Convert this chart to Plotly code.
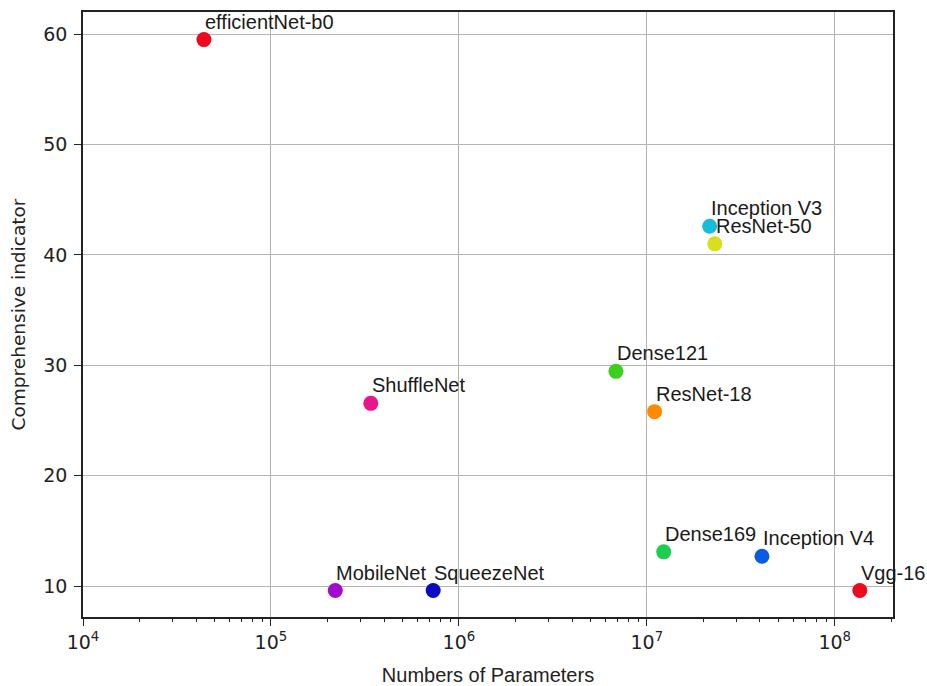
import math
import plotly.graph_objects as go

# Model comparison: parameter count vs. comprehensive indicator
models = ["efficientNet-b0", "Inception V3", "ResNet-50", "Dense121", "ResNet-18",
          "ShuffleNet", "Dense169", "Inception V4", "Vgg-16", "MobileNet", "SqueezeNet"]
params = [4.4e4, 2.16e7, 2.3e7, 6.85e6, 1.1e7, 3.4e5, 1.23e7, 4.1e7, 1.36e8, 2.2e5, 7.3e5]
indicator = [59.5, 42.6, 41.0, 29.45, 25.8, 26.55, 13.1, 12.7, 9.6, 9.6, 9.6]
colors = ["#ee0a1e", "#16bcdc", "#d7e01a", "#3ccf1c", "#ff8a00", "#e8158c",
          "#1ccd4e", "#0a5ce0", "#ee0a1e", "#a30bcc", "#0a0ac0"]

x_tick_vals = [1e4, 1e5, 1e6, 1e7, 1e8]
x_tick_text = ["10<sup>4</sup>", "10<sup>5</sup>", "10<sup>6</sup>", "10<sup>7</sup>", "10<sup>8</sup>"]
y_tick_vals = [10, 20, 30, 40, 50, 60]

# minor ticks at 2..9 within each decade
minor_vals = [m * 10 ** e for e in range(4, 9) for m in range(2, 10)]

X_RANGE = [4, 8.31]

fig = go.Figure()
fig.add_trace(go.Scatter(
    x=params, y=indicator, mode="markers",
    marker=dict(size=15, color=colors, line=dict(width=0)),
    hoverinfo="text", text=models, showlegend=False,
))
# invisible trace that keeps the minor-tick axis alive
fig.add_trace(go.Scatter(
    x=[minor_vals[0]], y=[indicator[0]], xaxis="x2", mode="markers",
    marker=dict(opacity=0), hoverinfo="skip", showlegend=False,
))

# annotations on a log axis take log10 positions
for name, px, py in zip(models, params, indicator):
    fig.add_annotation(
        x=math.log10(px), y=py, xref="x", yref="y", text=name, showarrow=False,
        xanchor="left", yanchor="middle", xshift=-1, yshift=18,
        font=dict(family="Liberation Sans, Arial", size=20, color="#1a1a1a"),
    )

fig.update_layout(
    width=927, height=686,
    margin=dict(l=83, r=34, t=12, b=69),
    paper_bgcolor="white", plot_bgcolor="white",
    font=dict(family="DejaVu Sans", size=19, color="#222222"),
    xaxis2=dict(
        type="log", range=X_RANGE, overlaying="x", side="bottom", anchor="y",
        tickmode="array", tickvals=minor_vals, ticks="outside", ticklen=4,
        tickwidth=1.2, tickcolor="#222", showticklabels=False,
        showgrid=False, zeroline=False, showline=False, automargin=False,
    ),
)
fig.layout.xaxis.update(
    type="log", range=X_RANGE, automargin=False,
    tickmode="array", tickvals=x_tick_vals, ticktext=x_tick_text,
    ticks="outside", ticklen=7, tickwidth=1.2, tickcolor="#222",
    showgrid=True, gridcolor="#b4b4b4", gridwidth=1,
    showline=True, linecolor="#222", linewidth=1.5, mirror=True,
    zeroline=False,
    title=dict(text="Numbers of Parameters", standoff=16,
               font=dict(family="Liberation Sans, Arial", size=20, color="#222")),
    tickfont=dict(family="DejaVu Sans", size=19, color="#222"),
)
fig.update_yaxes(
    range=[7.2, 62.0], tickvals=y_tick_vals, automargin=False,
    ticks="outside", ticklen=7, tickwidth=1.2, tickcolor="#222",
    ticklabelstandoff=3,
    showgrid=True, gridcolor="#b4b4b4", gridwidth=1,
    showline=True, linecolor="#222", linewidth=1.5, mirror=True,
    zeroline=False,
    title=dict(text="Comprehensive indicator", standoff=13,
               font=dict(family="DejaVu Sans", size=18.5, color="#222")),
    tickfont=dict(family="DejaVu Sans", size=19, color="#222"),
)

fig.write_html("out.html")
